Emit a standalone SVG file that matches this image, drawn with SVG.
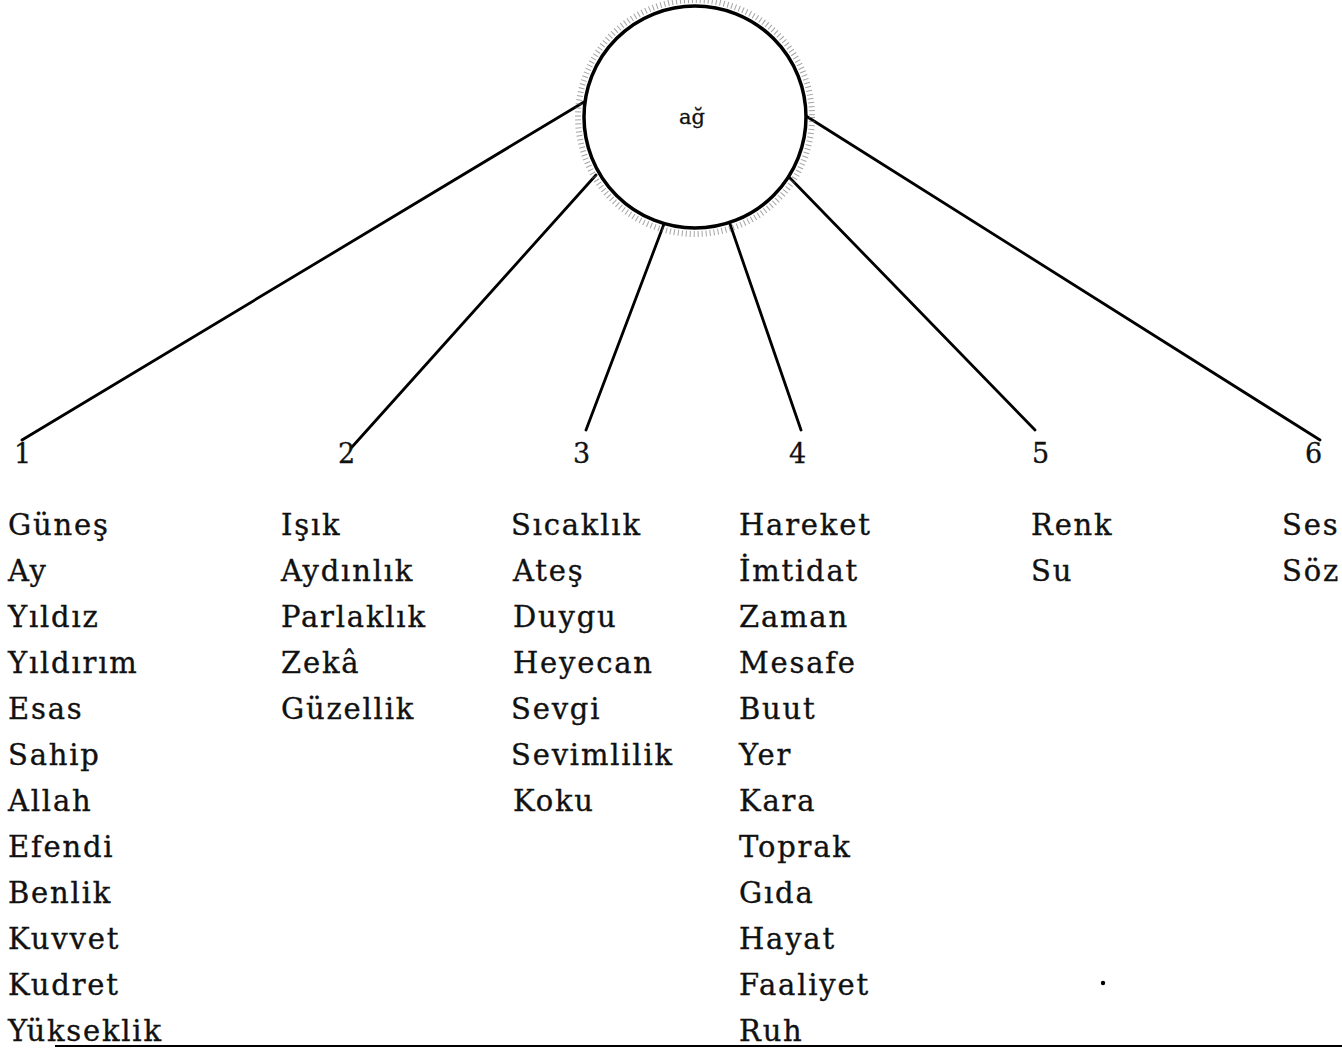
<svg xmlns="http://www.w3.org/2000/svg" width="1342" height="1051" viewBox="0 0 1342 1051">
<style>
.w{font-family:"DejaVu Serif","Liberation Serif",serif;font-size:29px;fill:#111;stroke:#111;stroke-width:0.35;letter-spacing:1.8px}
.n{font-family:"DejaVu Serif","Liberation Serif",serif;font-size:27px;fill:#111;stroke:#111;stroke-width:0.3}
.c{fill:#000;stroke:#000;stroke-width:2.8;stroke-linecap:round}
</style>
<rect width="1342" height="1051" fill="#fff"/>
<g id="connectors" class="c">
<line x1="584" y1="102" x2="22" y2="440"/>
<line x1="596" y1="175" x2="352" y2="447"/>
<line x1="664" y1="224" x2="586" y2="430"/>
<line x1="730" y1="224" x2="801" y2="430"/>
<line x1="788" y1="176" x2="1035" y2="430"/>
<line x1="806" y1="116" x2="1320" y2="440"/>
</g>
<g id="center">
<circle cx="695" cy="117" r="117" fill="none" stroke="#666" stroke-width="6" stroke-dasharray="1 3" opacity="0.6"/>
<circle cx="695" cy="117" r="111" fill="#fff" stroke="#000" stroke-width="3.5"/>
<text x="692" y="124" font-family="DejaVu Serif,serif" font-size="21" text-anchor="middle" fill="#111" stroke="#111" stroke-width="0.3">ağ</text>
</g>
<g id="col1">
<text class="n" x="14" y="463">1</text>
<text class="w" x="8" y="535">Güneş<tspan x="8" dy="46">Ay</tspan><tspan x="8" dy="46">Yıldız</tspan><tspan x="8" dy="46">Yıldırım</tspan><tspan x="8" dy="46">Esas</tspan><tspan x="8" dy="46">Sahip</tspan><tspan x="8" dy="46">Allah</tspan><tspan x="8" dy="46">Efendi</tspan><tspan x="8" dy="46">Benlik</tspan><tspan x="8" dy="46">Kuvvet</tspan><tspan x="8" dy="46">Kudret</tspan><tspan x="8" dy="46">Yükseklik</tspan></text>
</g>
<g id="col2">
<text class="n" x="338" y="463">2</text>
<text class="w" x="281" y="535">Işık<tspan x="281" dy="46">Aydınlık</tspan><tspan x="281" dy="46">Parlaklık</tspan><tspan x="281" dy="46">Zekâ</tspan><tspan x="281" dy="46">Güzellik</tspan></text>
</g>
<g id="col3">
<text class="n" x="573" y="463">3</text>
<text class="w" x="511" y="535">Sıcaklık<tspan x="513" dy="46">Ateş</tspan><tspan x="513" dy="46">Duygu</tspan><tspan x="513" dy="46">Heyecan</tspan><tspan x="511" dy="46">Sevgi</tspan><tspan x="511" dy="46">Sevimlilik</tspan><tspan x="513" dy="46">Koku</tspan></text>
</g>
<g id="col4">
<text class="n" x="789" y="463">4</text>
<text class="w" x="739" y="535">Hareket<tspan x="739" dy="46">İmtidat</tspan><tspan x="739" dy="46">Zaman</tspan><tspan x="739" dy="46">Mesafe</tspan><tspan x="739" dy="46">Buut</tspan><tspan x="739" dy="46">Yer</tspan><tspan x="739" dy="46">Kara</tspan><tspan x="739" dy="46">Toprak</tspan><tspan x="739" dy="46">Gıda</tspan><tspan x="739" dy="46">Hayat</tspan><tspan x="739" dy="46">Faaliyet</tspan><tspan x="739" dy="46">Ruh</tspan></text>
</g>
<g id="col5">
<text class="n" x="1032" y="463">5</text>
<text class="w" x="1031" y="535">Renk<tspan x="1031" dy="46">Su</tspan></text>
</g>
<g id="col6">
<text class="n" x="1305" y="463">6</text>
<text class="w" x="1282" y="535">Ses<tspan x="1282" dy="46">Söz</tspan></text>
</g>
<circle cx="1103" cy="983" r="2.2" fill="#000"/>
<line x1="55" y1="1046" x2="1342" y2="1046" stroke="#000" stroke-width="2"/>
</svg>
